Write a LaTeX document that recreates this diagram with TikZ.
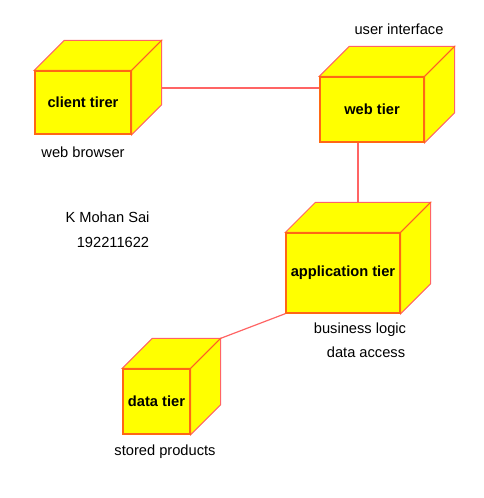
\documentclass[tikz,border=0pt]{standalone}
\usepackage{fontspec}
\setmainfont{Liberation Sans}
\definecolor{cubefill}{RGB}{255,255,0}
\definecolor{frontline}{RGB}{255,104,20}
\definecolor{edgeline}{RGB}{255,100,100}
\tikzset{
	tier/.style={draw=frontline, line width=1.3pt, fill=cubefill, font=\fontsize{14.67}{17}\selectfont\bfseries, inner sep=0pt},
	caption/.style={font=\fontsize{14.67}{17}\selectfont, inner sep=0pt},
	link/.style={draw=edgeline, line width=1.2pt}
}
\begin{document}
\begin{tikzpicture}[x=1pt, y=-1pt]
				\useasboundingbox (0,0) rectangle (484,498);
				\node[tier, minimum width=96pt, minimum height=63pt] (client) at (83,102.5) {client tirer};
				\node[tier, minimum width=104pt, minimum height=65pt] (web) at (372,109.5) {web tier};
				\node[tier, minimum width=114pt, minimum height=80pt] (app) at (343,273) {application tier};
				\node[tier, minimum width=67pt, minimum height=65pt] (data) at (156.5,401.5) {data tier};
				\foreach \n in {client,web,app,data} {
					\coordinate (\n-bnw) at ([xshift=30pt, yshift=30pt]\n.north west);
					\coordinate (\n-bne) at ([xshift=30pt, yshift=30pt]\n.north east);
					\coordinate (\n-bse) at ([xshift=30pt, yshift=30pt]\n.south east);
					\filldraw[fill=cubefill, draw=edgeline, line width=1pt] (\n.north west) -- (\n-bnw) -- (\n-bne) -- (\n.north east) -- cycle; %top face
					\filldraw[fill=cubefill, draw=edgeline, line width=1pt] (\n.north east) -- (\n-bne) -- (\n-bse) -- (\n.south east) -- cycle; %side face
					\draw[frontline, line width=1pt] (\n.north east) -- (\n-bne);
					\draw[frontline, line width=1.3pt] (\n.north west) rectangle (\n.south east);
				}
				\coordinate (cw) at ([yshift=21.5pt]web.west);
				\draw[link] (cw) -- (cw -| client-bne);
				\coordinate (wa) at ([xshift=-14pt]web.south);
				\draw[link] (wa) -- (wa |- app-bnw);
				\draw[link] (app.south west) -- (data-bne);
				\node[caption] (browser) at (83,152) {web browser};
				\node[caption] (ui) at (399,29) {user interface};
				\node[caption] (name) at (107.5,217) {K Mohan Sai};
				\node[caption] (regno) at (113,242) {192211622};
				\node[caption] (logic) at (360,330) {business logic};
				\node[caption] (access) at (366,352) {data access};
				\node[caption] (stored) at (165,452) {stored products};
			\end{tikzpicture}
\end{document}
